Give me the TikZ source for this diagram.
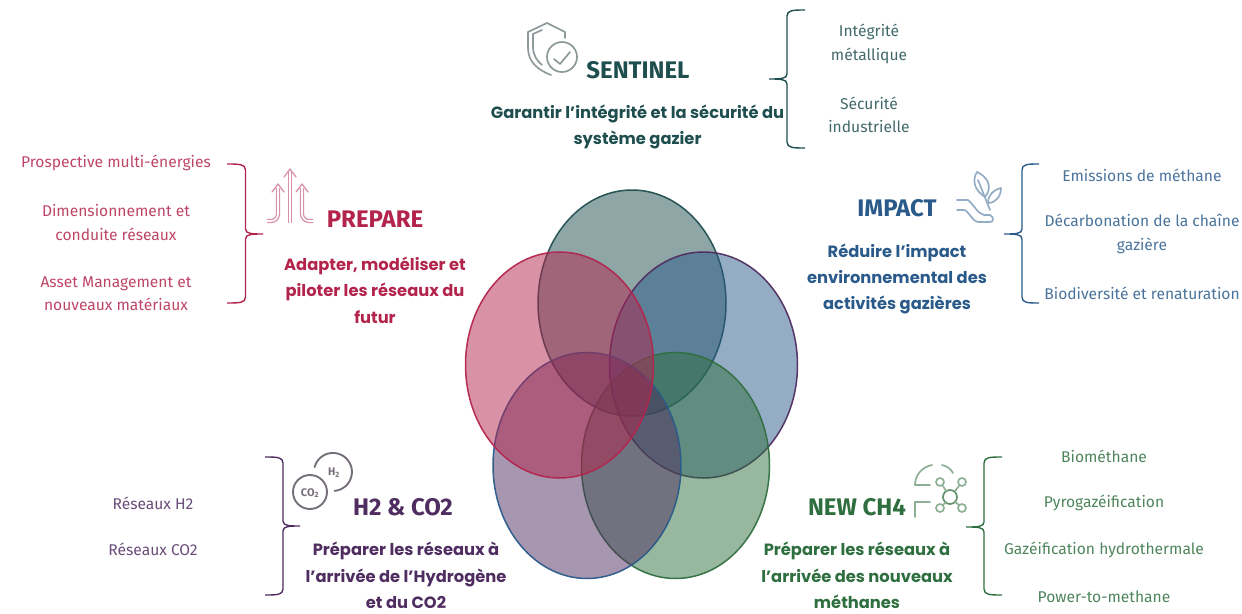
\documentclass[tikz,border=0pt]{standalone}
\usepackage{fontspec}
\usetikzlibrary{shapes.geometric,calc}
\setmainfont{Fira Sans}
\newfontfamily\subfont{Poppins}
\definecolor{sentinelc}{HTML}{1F4E4F}
\definecolor{preparec}{HTML}{B3244D}
\definecolor{impactc}{HTML}{2A5A8A}
\definecolor{hydroc}{HTML}{4F2D60}
\definecolor{methanec}{HTML}{2F6F3F}
% one bracket: colour, tip x, spine x, end x, top y, middle y, bottom y
\newcommand{\gazbracket}[7]{
  \draw[bracket, #1] (#4,#5) .. controls ($(#3,#5)!0.35!(#4,#5)$) and (#3,#5) .. ($(#3,#5)+(0,6)$)
    -- ($(#3,#6)+(0,-5)$) .. controls (#3,#6) and ($(#3,#6)!0.4!(#2,#6)$) .. (#2,#6)
    .. controls ($(#3,#6)!0.4!(#2,#6)$) and (#3,#6) .. ($(#3,#6)+(0,5)$)
    -- ($(#3,#7)+(0,-6)$) .. controls (#3,#7) and ($(#3,#7)!0.35!(#4,#7)$) .. (#4,#7);
}
\begin{document}
\begin{tikzpicture}[
    x=1pt, y=-1pt,
    lobe/.style={ellipse, draw, line width=1.5pt, fill opacity=0.5, draw opacity=0.95, minimum width=188pt, minimum height=226pt, inner sep=0pt, outer sep=0pt},
    bracket/.style={line width=1.4pt},
    title/.style={font=\fontsize{24}{28}\selectfont\bfseries},
    goal/.style={align=center, inner sep=0pt, font=\subfont\fontsize{16.3}{26.4}\selectfont\bfseries},
    item/.style={align=center, font=\fontsize{15.6}{23.5}\selectfont},
    icon/.style={line width=1.7pt, line cap=round, line join=round}
  ]
  \useasboundingbox (0,0) rectangle (1242,613);

  % Venn lobes
  \node[lobe, draw=sentinelc, fill=sentinelc] (lobe_sentinel) at (632,303) {};
  \node[lobe, draw=hydroc, fill=impactc] (lobe_impact) at (703.5,365) {};
  \node[lobe, draw=methanec, fill=methanec] (lobe_ch4) at (675.5,465.5) {};
  \node[lobe, draw=impactc, fill=hydroc] (lobe_h2) at (587,465.5) {};
  \node[lobe, draw=preparec, fill=preparec] (lobe_prepare) at (559.5,365) {};

  % SENTINEL
  \node[title, text=sentinelc] (sentinel_title) at (638,70) {SENTINEL};
  \node[goal, text=sentinelc] (sentinel_goal) at (637.5,127) {Garantir l’intégrité et la sécurité du\\système gazier};
  \node[item, text=sentinelc!85] (sentinel_a) at (869,44) {Intégrité\\métallique};
  \node[item, text=sentinelc!85] (sentinel_b) at (869,115) {Sécurité\\industrielle};
  \gazbracket{sentinelc}{769}{787}{805}{10}{79}{148}
  \begin{scope}[icon, draw=gray!65!sentinelc!70]
    \draw (565,38) -- (565,32) -- (547,23) -- (528,32) -- (528,48) .. controls (528,62) and (538,70) .. (551,75);
    \draw (542,30) -- (533,34) -- (533,47) .. controls (533,55) and (537,61) .. (542,65);
    \draw (562,57) circle (15);
    \draw (554,59) -- (560,64) -- (570,52);
  \end{scope}

  % PREPARE
  \node[title, text=preparec] (prepare_title) at (375,219) {PREPARE};
  \node[goal, text=preparec] (prepare_goal) at (375,290) {Adapter, modéliser et\\piloter les réseaux du\\futur};
  \node[item, text=preparec!85] (prepare_a) at (116,163) {Prospective multi-énergies};
  \node[item, text=preparec!85] (prepare_b) at (116,222.5) {Dimensionnement et\\conduite réseaux};
  \node[item, text=preparec!85] (prepare_c) at (116,293.5) {Asset Management et\\nouveaux matériaux};
  \gazbracket{preparec}{263}{245.5}{227}{164}{234}{303}
  \begin{scope}[icon, draw=preparec!50, line width=1.3pt]
    \draw[double, double distance=1.6pt, line cap=butt] (290,223) -- (290,172);
    \draw[double, double distance=1.6pt, line cap=butt, rounded corners=7pt] (267,221) -- (278,221) -- (278,188);
    \draw[double, double distance=1.6pt, line cap=butt, rounded corners=7pt] (313,221) -- (302,221) -- (302,188);
    \draw (284,177) -- (290,169) -- (296,177);
    \draw (272,192) -- (278,184) -- (284,192);
    \draw (296,192) -- (302,184) -- (308,192);
  \end{scope}

  % IMPACT
  \node[title, text=impactc] (impact_title) at (897,208) {IMPACT};
  \node[goal, text=impactc] (impact_goal) at (897,279) {Réduire l’impact\\environnemental des\\activités gazières};
  \node[item, text=impactc!85] (impact_a) at (1142,175) {Emissions de méthane};
  \node[item, text=impactc!85] (impact_b) at (1142,234) {Décarbonation de la chaîne\\gazière};
  \node[item, text=impactc!85] (impact_c) at (1142,293) {Biodiversité et renaturation};
  \gazbracket{impactc}{1004}{1022}{1039}{164}{234}{303}
  \begin{scope}[icon, draw=impactc!50]
    \draw (985,197) .. controls (974,190) and (972,180) .. (977,172) .. controls (986,176) and (994,186) .. cycle;
    \draw (988,203) .. controls (988,195) and (993,190) .. (1001,188) .. controls (1001,196) and (996,203) .. cycle;
    \draw (978,180) -- (990,210);
    \draw (957,200) -- (968,200) .. controls (974,205) and (978,214) .. (984,215) -- (990,215) .. controls (994,217) and (994,222) .. (990,222) -- (978,222) .. controls (972,221) and (968,210) .. (964,210) -- (957,210);
  \end{scope}

  % H2 & CO2
  \node[title, text=hydroc] (hydro_title) at (403,507) {H2 \& CO2};
  \node[goal, text=hydroc] (hydro_goal) at (406,575.5) {Préparer les réseaux à\\l’arrivée de l’Hydrogène\\et du CO2};
  \node[item, text=hydroc!85] (hydro_a) at (153,503) {Réseaux H2};
  \node[item, text=hydroc!85] (hydro_b) at (153,549) {Réseaux CO2};
  \gazbracket{hydroc}{300}{283}{265}{457}{526}{595}
  \begin{scope}[icon, draw=gray!80!hydroc, line width=1.9pt]
    \draw (314.6,467) arc[start angle=-165, end angle=85, radius=19];
    \draw (310,492) circle (17);
  \end{scope}
  \node[text=gray!80!hydroc, font=\fontsize{11}{12}\selectfont\bfseries] (hydro_icon_a) at (334,473) {H\textsubscript{2}};
  \node[text=gray!80!hydroc, font=\fontsize{11}{12}\selectfont\bfseries] (hydro_icon_b) at (310,493) {CO\textsubscript{2}};

  % NEW CH4
  \node[title, text=methanec] (methane_title) at (857,507) {NEW CH4};
  \node[goal, text=methanec] (methane_goal) at (857,575.5) {Préparer les réseaux à\\l’arrivée des nouveaux\\méthanes};
  \node[item, text=methanec!85] (methane_a) at (1104,456) {Biométhane};
  \node[item, text=methanec!85] (methane_b) at (1104,503) {Pyrogazéification};
  \node[item, text=methanec!85] (methane_c) at (1104,550) {Gazéification hydrothermale};
  \node[item, text=methanec!85] (methane_d) at (1104,597) {Power-to-methane};
  \gazbracket{methanec}{966}{984}{1002}{457}{527}{595}
  \begin{scope}[icon, draw=methanec!55]
    \draw (915,485) .. controls (915,475) and (922,467) .. (932,465);
    \draw (942,465) .. controls (947,466) and (951,469) .. (953,473);
    \draw (915,485) -- (930,485);
    \draw (915,517) -- (915,502) -- (930,502);
    \draw[methanec!75] (950,497) circle (7);
    \foreach \px/\py in {940/482, 962/482, 940/508, 962/508} {
      \draw (\px,\py) circle (4);
    }
    \draw (943,486) -- (946,491);
    \draw (959,486) -- (955,491);
    \draw (943,505) -- (946,502);
    \draw (959,505) -- (955,502);
  \end{scope}
\end{tikzpicture}
\end{document}
